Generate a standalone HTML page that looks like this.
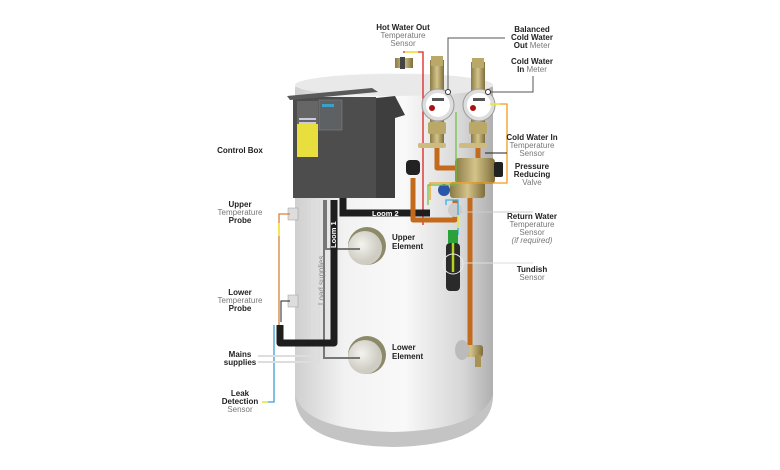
<!DOCTYPE html>
<html><head><meta charset="utf-8"><style>
html,body{margin:0;padding:0;background:#fff;}
svg{display:block;font-family:"Liberation Sans",sans-serif;}
.b{font-weight:bold;fill:#222;font-size:8px;}
.g{fill:#777;font-size:8px;}
</style></head><body>
<svg width="780" height="470" viewBox="0 0 780 470">
<defs>
<linearGradient id="cyl" x1="0" x2="1">
<stop offset="0" stop-color="#cfcfcf"/><stop offset="0.25" stop-color="#f2f2f2"/><stop offset="0.55" stop-color="#f9f9f9"/><stop offset="0.85" stop-color="#d6d6d6"/><stop offset="1" stop-color="#b0b0b0"/></linearGradient>
<linearGradient id="brass" x1="0" x2="1"><stop offset="0" stop-color="#8a7a45"/><stop offset="0.5" stop-color="#d4c48a"/><stop offset="1" stop-color="#7e6d3a"/></linearGradient>
<radialGradient id="el" cx="0.4" cy="0.4"><stop offset="0" stop-color="#f4f3ee"/><stop offset="1" stop-color="#cfcdc3"/></radialGradient>
</defs>
<path d="M295 88 Q295 75 393 73 Q493 75 493 88 L493 395 Q493 445 393 447 Q295 445 295 395 Z" fill="url(#cyl)"/>
<path d="M295 395 Q295 445 393 447 Q493 445 493 395 Q480 430 393 432 Q305 430 295 395Z" fill="#c4c4c4"/>
<ellipse cx="394" cy="85" rx="99" ry="11" fill="#e9e9e9"/>
<rect x="395" y="58" width="18" height="10" fill="url(#brass)"/>
<rect x="400" y="57" width="5" height="12" fill="#444"/>
<polyline points="403,52 423,52 423,225" fill="none" stroke="#d22" stroke-width="1.3"/>
<line x1="405" y1="52" x2="418" y2="52" stroke="#ee3" stroke-width="1.5"/>
<polygon points="376,98 395,96 405,115 395,118 395,198 376,198" fill="#3e3e3e"/>
<rect x="293" y="97" width="83" height="101" fill="#4d4d4d"/>
<polygon points="287,96 372,88 378,92 290,100" fill="#5a5a5a"/>
<rect x="297" y="101" width="21" height="56" fill="#666"/>
<rect x="297" y="124" width="21" height="33" fill="#e8df3e"/>
<rect x="299" y="118" width="17" height="2" fill="#ccd"/><rect x="299" y="122" width="17" height="2" fill="#ccd"/>
<rect x="319" y="100" width="23" height="30" fill="#5e6164" stroke="#888" stroke-width="0.5"/>
<rect x="322" y="104" width="12" height="3" fill="#3aa0c8"/>
<circle cx="367" cy="246" r="19" fill="#8d8a6a"/><circle cx="365" cy="248" r="17" fill="url(#el)"/>
<circle cx="367" cy="355" r="19" fill="#8d8a6a"/><circle cx="365" cy="357" r="17" fill="url(#el)"/>
<rect x="288" y="208" width="10" height="12" fill="#ddd" stroke="#999" stroke-width="0.5"/>
<rect x="288" y="295" width="10" height="12" fill="#ddd" stroke="#999" stroke-width="0.5"/>
<polyline points="290,214 279,214 279,325" fill="none" stroke="#d9823a" stroke-width="1.3"/>
<line x1="279" y1="223" x2="279" y2="236" stroke="#ee3" stroke-width="1.5"/>
<polyline points="290,301 281,301 281,322" fill="none" stroke="#222" stroke-width="1"/>
<polyline points="274,325 274,402 262,402" fill="none" stroke="#3a9fd6" stroke-width="1.3"/>
<line x1="262" y1="402" x2="268" y2="402" stroke="#ee3" stroke-width="1.5"/>
<polyline points="258,356 312,356 312,200" fill="none" stroke="#ddd" stroke-width="2"/>
<polyline points="258,362 319,362 319,200" fill="none" stroke="#ddd" stroke-width="2"/>
<polyline points="326,200 326,249 360,249" fill="none" stroke="#777" stroke-width="2"/>
<polyline points="324,200 324,358 360,358" fill="none" stroke="#777" stroke-width="2"/>
<polyline points="334,200 334,343 280,343 280,325" fill="none" stroke="#1e1e1e" stroke-width="7" stroke-linejoin="round"/>
<text transform="translate(336,248) rotate(-90)" font-size="7.5" fill="#fff" font-weight="bold">Loom 1</text>
<text transform="translate(324,305) rotate(-90)" font-size="8" fill="#888">Load supplies</text>
<polyline points="343,198 343,213 430,213" fill="none" stroke="#1e1e1e" stroke-width="7"/>
<text x="372" y="216" font-size="7.5" fill="#fff" font-weight="bold">Loom 2</text>
<g fill="none" stroke="#c46a1c" stroke-width="5" stroke-linejoin="round">
<polyline points="437,140 437,168 470,168"/>
<polyline points="478,140 478,168"/>
<polyline points="413,178 413,220 455,220 455,200"/>
<polyline points="470,195 470,345"/>
</g>
<rect x="406" y="160" width="14" height="15" rx="4" fill="#222"/>
<rect x="430" y="60" width="14" height="85" fill="url(#brass)"/>
<rect x="471" y="62" width="14" height="83" fill="url(#brass)"/>
<rect x="431" y="56" width="12" height="10" fill="#b9a868"/><rect x="472" y="58" width="12" height="10" fill="#b9a868"/>
<rect x="428" y="122" width="18" height="12" rx="2" fill="#b9a868"/><rect x="469" y="122" width="18" height="12" rx="2" fill="#b9a868"/>
<circle cx="438" cy="105" r="16" fill="#ddd" stroke="#999"/><circle cx="438" cy="105" r="12" fill="#fff"/>
<circle cx="479" cy="105" r="16" fill="#ddd" stroke="#999"/><circle cx="479" cy="105" r="12" fill="#fff"/>
<circle cx="432" cy="108" r="3" fill="#a11"/><circle cx="473" cy="108" r="3" fill="#a11"/>
<rect x="432" y="98" width="12" height="3" fill="#555"/><rect x="473" y="98" width="12" height="3" fill="#555"/>
<rect x="418" y="143" width="28" height="5" rx="2" fill="#cdbb80"/><rect x="459" y="143" width="28" height="5" rx="2" fill="#cdbb80"/>
<rect x="455" y="158" width="40" height="26" rx="4" fill="url(#brass)"/>
<rect x="494" y="162" width="9" height="15" rx="2" fill="#222"/>
<rect x="450" y="182" width="35" height="16" rx="3" fill="url(#brass)"/>
<circle cx="444" cy="190" r="6" fill="#2a55a8"/>
<circle cx="455" cy="210" r="7" fill="#ccc"/>
<polyline points="446,205 446,200 458,200 458,235" fill="none" stroke="#3aaee0" stroke-width="1.3"/>
<line x1="458" y1="215" x2="458" y2="228" stroke="#ee3" stroke-width="1.5"/>
<rect x="448" y="230" width="10" height="13" fill="#2aa13a"/>
<rect x="446" y="243" width="14" height="48" rx="4" fill="#2a2a2a"/>
<line x1="453" y1="243" x2="453" y2="272" stroke="#b5d21e" stroke-width="2.5"/>
<circle cx="453" cy="264" r="10" fill="none" stroke="#eee" stroke-width="1"/>
<rect x="458" y="345" width="25" height="12" rx="3" fill="url(#brass)"/>
<rect x="475" y="355" width="6" height="12" fill="#a89355"/>
<ellipse cx="462" cy="350" rx="7" ry="10" fill="#bbb"/>
<polyline points="456,112 456,185 428,185 428,205" fill="none" stroke="#6cbf3a" stroke-width="1.2"/>
<polyline points="490,104 507,104 507,183 430,183 430,200" fill="none" stroke="#f39a1a" stroke-width="1.3"/>
<line x1="490" y1="104" x2="500" y2="104" stroke="#ee3" stroke-width="1.5"/>
<polyline points="485,153 507,153" fill="none" stroke="#222" stroke-width="1"/>
<polyline points="448,92 448,38 505,38" fill="none" stroke="#555" stroke-width="1"/>
<circle cx="448" cy="92" r="2.5" fill="#fff" stroke="#333"/>
<polyline points="488,92 533,92 533,76" fill="none" stroke="#555" stroke-width="1"/>
<circle cx="488" cy="92" r="2.5" fill="#fff" stroke="#333"/>
<line x1="460" y1="212" x2="533" y2="212" stroke="#ccc" stroke-width="1"/>
<line x1="463" y1="263" x2="533" y2="263" stroke="#ddd" stroke-width="1"/>
<g text-anchor="middle">
<text x="403" y="30" class="b">Hot Water Out</text><text x="403" y="38" class="g">Temperature</text><text x="403" y="46" class="g">Sensor</text>
<text x="532" y="32" class="b">Balanced</text><text x="532" y="40" class="b">Cold Water</text><text x="532" y="48"><tspan class="b">Out</tspan><tspan class="g"> Meter</tspan></text>
<text x="532" y="64" class="b">Cold Water</text><text x="532" y="72"><tspan class="b">In</tspan><tspan class="g"> Meter</tspan></text>
<text x="240" y="153" class="b">Control Box</text>
<text x="532" y="140" class="b">Cold Water In</text><text x="532" y="148" class="g">Temperature</text><text x="532" y="156" class="g">Sensor</text>
<text x="532" y="169" class="b">Pressure</text><text x="532" y="177" class="b">Reducing</text><text x="532" y="185" class="g">Valve</text>
<text x="240" y="207" class="b">Upper</text><text x="240" y="215" class="g">Temperature</text><text x="240" y="223" class="b">Probe</text>
<text x="532" y="219" class="b">Return Water</text><text x="532" y="227" class="g">Temperature</text><text x="532" y="235" class="g">Sensor</text><text x="532" y="243" class="g" font-size="6" font-style="italic">(if required)</text>
<text x="532" y="272" class="b">Tundish</text><text x="532" y="280" class="g">Sensor</text>
<text x="240" y="295" class="b">Lower</text><text x="240" y="303" class="g">Temperature</text><text x="240" y="311" class="b">Probe</text>
<text x="240" y="357" class="b">Mains</text><text x="240" y="365" class="b">supplies</text>
<text x="240" y="396" class="b">Leak</text><text x="240" y="404" class="b">Detection</text><text x="240" y="412" class="g">Sensor</text>
</g>
<text x="392" y="240" class="b">Upper</text><text x="392" y="249" class="b">Element</text>
<text x="392" y="350" class="b">Lower</text><text x="392" y="359" class="b">Element</text>
</svg>
</body></html>
